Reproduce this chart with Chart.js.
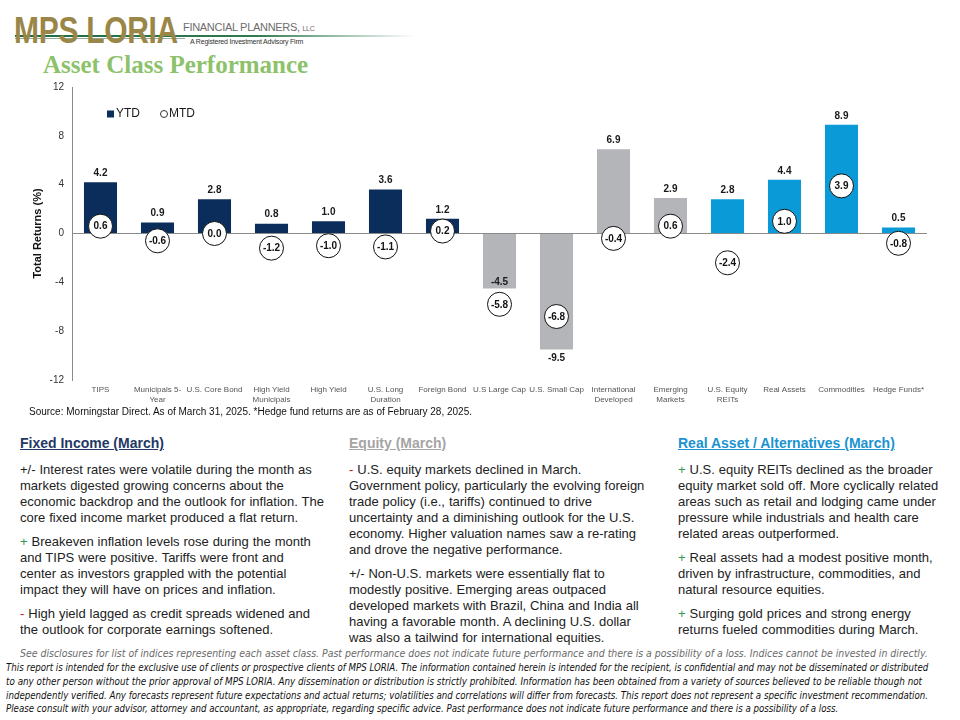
<!DOCTYPE html>
<html><head><meta charset="utf-8">
<script src="https://cdn.jsdelivr.net/npm/chart.js@4.4.1/dist/chart.umd.min.js"></script>
<style>
html,body{margin:0;padding:0;background:#fff;}
body{width:960px;height:720px;position:relative;overflow:hidden;font-family:"Liberation Sans",Arial,sans-serif;}
.abs{position:absolute;white-space:nowrap;}
#logo{left:14px;top:9px;font-family:"Liberation Sans",Arial,sans-serif;font-weight:bold;font-size:30px;color:#9a8646;letter-spacing:-0.3px;transform:scaleY(1.25);transform-origin:left top;}
#fp{left:183px;top:21px;font-size:11px;color:#6d6d6d;letter-spacing:-0.3px;}
#fp small{font-size:7px;}
#rif{left:190px;top:38px;font-size:7px;color:#333;letter-spacing:-0.2px;}
#gline{left:15px;top:35px;width:400px;height:2px;background:linear-gradient(to right,#1f6b45 0%,#2f7a50 60%,rgba(180,200,190,0) 100%);}
#gline2{left:15px;top:38px;width:170px;height:1px;background:#9aa89f;}
#title{left:43px;top:51px;font-family:"Liberation Serif","Times New Roman",serif;font-weight:bold;font-size:25px;color:#8cc26a;}
#chartbox{position:absolute;left:0;top:73px;width:940px;height:337px;}
#src{left:29px;top:406px;font-size:10px;color:#111;}
.col{position:absolute;top:435px;font-size:13px;line-height:16px;color:#222;white-space:nowrap;word-spacing:0.3px;}
.col h3{margin:0 0 10px 0;font-size:14px;line-height:17px;font-weight:bold;text-decoration:underline;word-spacing:0;}
.col p{margin:0 0 8px 0;}
.g{color:#2f9a4e;}
.r{color:#c0201a;}
#c1{left:20px;} #c1 h3{color:#1f3864;}
#c2{left:349px;} #c2 h3{color:#a5a5a5;}
#c3{left:678px;} #c3 h3{color:#1a93d0;}
#see{left:20px;top:647px;font-size:11px;font-style:italic;color:#6a6a6a;font-family:"Liberation Sans Narrow","DejaVu Sans Condensed","Liberation Sans",sans-serif;transform-origin:left top;}
.disc{left:6px;font-size:10.5px;font-style:italic;color:#111;font-family:"Liberation Sans Narrow","DejaVu Sans Condensed","Liberation Sans",sans-serif;transform-origin:left top;}
</style></head>
<body>
<div class="abs" id="gline"></div>
<div class="abs" id="gline2"></div>
<div class="abs" id="logo">MPS LORIA</div>
<div class="abs" id="fp">FINANCIAL PLANNERS, <small>LLC</small></div>
<div class="abs" id="rif">A Registered Investment Advisory Firm</div>
<div class="abs" id="title">Asset Class Performance</div>
<div id="chartbox"><canvas id="c" width="940" height="337"></canvas></div>
<div class="abs" id="src">Source: Morningstar Direct. As of March 31, 2025. *Hedge fund returns are as of February 28, 2025.</div>

<div class="col" id="c1"><h3>Fixed Income (March)</h3>
<p>+/- Interest rates were volatile during the month as<br>markets digested growing concerns about the<br>economic backdrop and the outlook for inflation. The<br>core fixed income market produced a flat return.</p>
<p><span class="g">+</span> Breakeven inflation levels rose during the month<br>and TIPS were positive. Tariffs were front and<br>center as investors grappled with the potential<br>impact they will have on prices and inflation.</p>
<p><span class="r">-</span> High yield lagged as credit spreads widened and<br>the outlook for corporate earnings softened.</p></div>

<div class="col" id="c2"><h3>Equity (March)</h3>
<p><span class="r">-</span> U.S. equity markets declined in March.<br>Government policy, particularly the evolving foreign<br>trade policy (i.e., tariffs) continued to drive<br>uncertainty and a diminishing outlook for the U.S.<br>economy. Higher valuation names saw a re-rating<br>and drove the negative performance.</p>
<p>+/- Non-U.S. markets were essentially flat to<br>modestly positive. Emerging areas outpaced<br>developed markets with Brazil, China and India all<br>having a favorable month. A declining U.S. dollar<br>was also a tailwind for international equities.</p></div>

<div class="col" id="c3"><h3>Real Asset / Alternatives (March)</h3>
<p><span class="g">+</span> U.S. equity REITs declined as the broader<br>equity market sold off. More cyclically related<br>areas such as retail and lodging came under<br>pressure while industrials and health care<br>related areas outperformed.</p>
<p><span class="g">+</span> Real assets had a modest positive month,<br>driven by infrastructure, commodities, and<br>natural resource equities.</p>
<p><span class="g">+</span> Surging gold prices and strong energy<br>returns fueled commodities during March.</p></div>

<div class="abs fit" id="see" data-w="908">See disclosures for list of indices representing each asset class. Past performance does not indicate future performance and there is a possibility of a loss. Indices cannot be invested in directly.</div>
<div class="abs disc fit" style="top:661px" data-w="922">This report is intended for the exclusive use of clients or prospective clients of MPS LORIA. The information contained herein is intended for the recipient, is confidential and may not be disseminated or distributed</div>
<div class="abs disc fit" style="top:675px" data-w="916">to any other person without the prior approval of MPS LORIA. Any dissemination or distribution is strictly prohibited. Information has been obtained from a variety of sources believed to be reliable though not</div>
<div class="abs disc fit" style="top:689px" data-w="922">independently verified. Any forecasts represent future expectations and actual returns; volatilities and correlations will differ from forecasts. This report does not represent a specific investment recommendation.</div>
<div class="abs disc fit" style="top:702px" data-w="832">Please consult with your advisor, attorney and accountant, as appropriate, regarding specific advice. Past performance does not indicate future performance and there is a possibility of a loss.</div>

<script>
// ---- data ----
const categories = ["TIPS", ["Municipals 5-","Year"], "U.S. Core Bond", ["High Yield","Municipals"], "High Yield", ["U.S. Long","Duration"], "Foreign Bond", "U.S Large Cap", "U.S. Small Cap", ["International","Developed"], ["Emerging","Markets"], ["U.S. Equity","REITs"], "Real Assets", "Commodities", "Hedge Funds*"];
const ytd = [4.2, 0.9, 2.8, 0.8, 1.0, 3.6, 1.2, -4.5, -9.5, 6.9, 2.9, 2.8, 4.4, 8.9, 0.5];
const mtd = [0.6, -0.6, 0.0, -1.2, -1.0, -1.1, 0.2, -5.8, -6.8, -0.4, 0.6, -2.4, 1.0, 3.9, -0.8];
const groups = ["fixed","fixed","fixed","fixed","fixed","fixed","fixed","equity","equity","equity","equity","real","real","real","real"];
const yTicks = [-12, -8, -4, 0, 4, 8, 12];
const seriesNames = ["YTD", "MTD"];

const groupColors = {fixed: "#0b2d5b", equity: "#b3b5b8", real: "#0a9ad8"};
const CANVAS_TOP = 73;

// fit footer lines to widths
document.querySelectorAll('.fit').forEach(el => {
  const w = el.scrollWidth; const t = +el.dataset.w;
  if (w > 0) el.style.transform = 'scaleX(' + (t / w) + ')';
});

const labelPlugin = {
  id: 'labels',
  afterDatasetsDraw(chart) {
    const ctx = chart.ctx;
    const barMeta = chart.getDatasetMeta(1);
    const ptMeta = chart.getDatasetMeta(0);
    ctx.save();
    ctx.textAlign = 'center';
    ctx.textBaseline = 'middle';
    ctx.font = 'bold 10px "Liberation Sans", Arial, sans-serif';
    ctx.fillStyle = '#111';
    ptMeta.data.forEach((p, i) => {
      ctx.fillText(mtd[i].toFixed(1), p.x, p.y + 0.5);
    });
    ctx.fillStyle = '#1a1a1a';
    barMeta.data.forEach((b, i) => {
      const v = ytd[i];
      let ly;
      if (v >= 0) {
        ly = b.y - 9;
      } else {
        ly = b.y + 9;
        const cy = ptMeta.data[i].y;
        if (Math.abs(cy - ly) < 18) ly = b.y - 6;
      }
      ctx.fillText(v.toFixed(1), b.x, ly);
    });
    // legend
    const lx = chart.chartArea.left + 35, ly = 114 - CANVAS_TOP;
    ctx.fillStyle = groupColors.fixed;
    ctx.fillRect(lx, ly - 3.5, 7, 7);
    ctx.font = '12px "Liberation Sans", Arial, sans-serif';
    ctx.fillStyle = '#1a1a1a';
    ctx.textAlign = 'left';
    ctx.fillText(seriesNames[0], lx + 9, ly);
    ctx.beginPath();
    ctx.arc(lx + 57, ly, 3.5, 0, Math.PI * 2);
    ctx.strokeStyle = '#333'; ctx.lineWidth = 1; ctx.stroke();
    ctx.fillText(seriesNames[1], lx + 62, ly);
    ctx.restore();
  }
};

new Chart(document.getElementById('c'), {
  data: {
    labels: categories,
    datasets: [
      {
        type: 'line', label: seriesNames[1], data: mtd, showLine: false, order: 0,
        pointRadius: 12, pointHoverRadius: 12, pointBackgroundColor: '#ffffff',
        pointBorderColor: '#111', pointBorderWidth: 1, clip: false
      },
      {
        type: 'bar', label: seriesNames[0], data: ytd, order: 1,
        backgroundColor: groups.map(g => groupColors[g]),
        categoryPercentage: 1, barPercentage: 0.58
      }
    ]
  },
  options: {
    responsive: false, animation: false,
    layout: {padding: {top: 6, right: 12, left: 0, bottom: 0}},
    plugins: {legend: {display: false}, tooltip: {enabled: false}},
    scales: {
      x: {
        grid: {display: false, drawTicks: false},
        border: {display: false},
        ticks: {color: '#555', font: {size: 8, family: '"Liberation Sans", Arial, sans-serif'}, padding: 5, maxRotation: 0, autoSkip: false},
        afterFit(s) { s.height = 30; }
      },
      y: {
        min: -12, max: 12,
        afterBuildTicks(s) { s.ticks = yTicks.map(v => ({value: v})); },
        grid: {drawTicks: false, color: c => (c.tick && c.tick.value === 0) ? '#8a8a8a' : 'rgba(0,0,0,0)', lineWidth: 1},
        border: {display: true, color: '#8a8a8a'},
        ticks: {color: '#333', font: {size: 10, family: '"Liberation Sans", Arial, sans-serif'}, padding: 8},
        title: {display: true, text: 'Total Returns (%)', color: '#111', font: {size: 11, weight: 'bold', family: '"Liberation Sans", Arial, sans-serif'}, padding: {top: 31, bottom: 0}},
        afterFit(s) { s.width = 72; }
      }
    }
  },
  plugins: [labelPlugin]
});
</script>
</body></html>
